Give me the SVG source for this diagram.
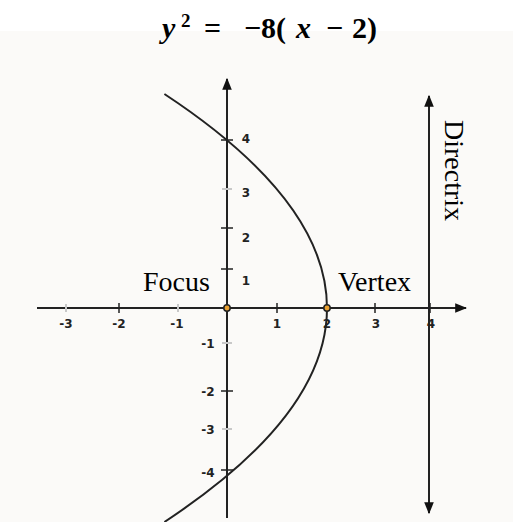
<svg xmlns="http://www.w3.org/2000/svg" width="513" height="522" viewBox="0 0 513 522">
<style>
.ax{stroke:#222;stroke-width:2;fill:none}
.tk{stroke:#222;stroke-width:1.5}
.tkl{stroke:#c8c8c8;stroke-width:2}
.num{font-family:"DejaVu Sans",sans-serif;font-weight:bold;font-size:12px;fill:#222}
.lbl{font-family:"Liberation Serif",serif;font-size:28px;fill:#000}
.ttl{font-family:"Liberation Serif",serif;font-weight:bold;font-size:30px;fill:#000}
</style>
<defs>
<marker id="ah" viewBox="0 0 10 10" refX="9" refY="5" markerWidth="6" markerHeight="6" orient="auto-start-reverse" markerUnits="strokeWidth">
<path d="M0,1 L10,5 L0,9 Z" fill="#111"/>
</marker>
</defs>
<rect x="0" y="0" width="513" height="522" fill="#fff"/>
<rect x="0" y="31" width="513" height="491" fill="#fbfaf8"/>
<text class="ttl" y="38"><tspan x="162" font-style="italic">y</tspan><tspan x="181" y="27" font-size="19">2</tspan><tspan x="204" y="38">=</tspan><tspan x="244">−8(</tspan><tspan x="296" font-style="italic">x</tspan><tspan x="326">−</tspan><tspan x="352">2)</tspan></text>
<g id="connectors">
<line id="x-axis" class="ax" x1="37" y1="308" x2="466" y2="308" marker-end="url(#ah)"/>
<line id="y-axis" class="ax" x1="227" y1="518" x2="227" y2="79" marker-end="url(#ah)"/>
<line id="directrix-line" class="ax" x1="429" y1="96" x2="429" y2="513" marker-start="url(#ah)" marker-end="url(#ah)"/>
</g>
<g id="ticks">
<line class="tkl" x1="66" y1="304" x2="66" y2="312"/>
<line class="tk" x1="119" y1="303" x2="119" y2="313"/>
<line class="tkl" x1="178" y1="304" x2="178" y2="312"/>
<line class="tk" x1="277" y1="303" x2="277" y2="313"/>
<line class="tk" x1="375" y1="303" x2="375" y2="313"/>
<line class="tk" x1="430" y1="303" x2="430" y2="313"/>
<line class="tkl" x1="222" y1="189" x2="232" y2="189"/>
<line class="tk" x1="221" y1="228" x2="233" y2="228"/>
<line class="tk" x1="221" y1="269" x2="233" y2="269"/>
<line class="tk" x1="221" y1="140" x2="233" y2="140"/>
<line class="tkl" x1="222" y1="343" x2="232" y2="343"/>
<line class="tk" x1="221" y1="391" x2="233" y2="391"/>
<line class="tkl" x1="222" y1="429" x2="232" y2="429"/>
<line class="tk" x1="221" y1="470" x2="233" y2="470"/>
</g>
<g id="tick-labels" class="num" text-anchor="middle">
<text x="66" y="328">-3</text>
<text x="119" y="328">-2</text>
<text x="177" y="328">-1</text>
<text x="277" y="328">1</text>
<text x="327" y="328">2</text>
<text x="376" y="328">3</text>
<text x="431" y="328">4</text>
<text x="246" y="143">4</text>
<text x="246" y="197">3</text>
<text x="246" y="242">2</text>
<text x="246" y="285">1</text>
<text x="208" y="348">-1</text>
<text x="208" y="396">-2</text>
<text x="208" y="434">-3</text>
<text x="208" y="477">-4</text>
</g>
<g id="parabola">
<path class="ax" d="M164.4,94 Q489.6,308 164.4,522"/>
</g>
<g id="focus">
<circle cx="227" cy="308" r="3.2" fill="#e8a030" stroke="#222" stroke-width="1.5"/>
<text class="lbl" x="143" y="291">Focus</text>
</g>
<g id="vertex">
<circle cx="327" cy="308" r="3.2" fill="#e8a030" stroke="#222" stroke-width="1.5"/>
<text class="lbl" x="338" y="291">Vertex</text>
</g>
<g id="directrix">
<text class="lbl" transform="translate(445,120) rotate(90)">Directrix</text>
</g>
</svg>
